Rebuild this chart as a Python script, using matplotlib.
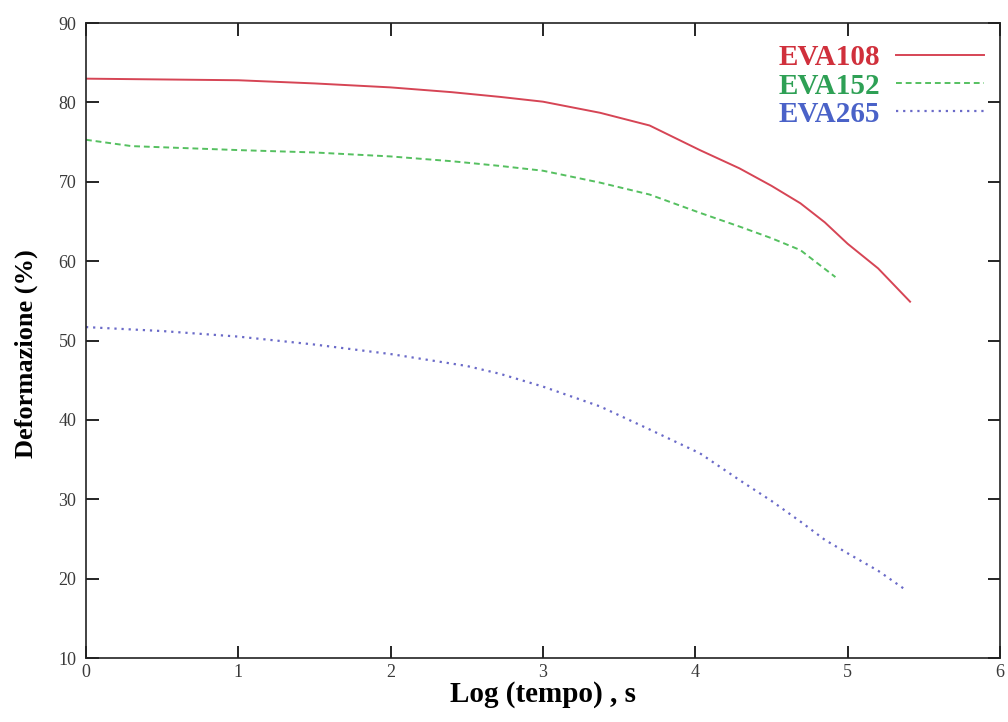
import matplotlib
matplotlib.use("Agg")
import matplotlib.pyplot as plt

# Creep recovery curves: deformation vs log(time)
eva108_x = [0.0, 0.5, 1.0, 1.5, 2.0, 2.4, 2.72, 3.0, 3.375, 3.7, 4.03, 4.29, 4.5, 4.69, 4.85, 5.0, 5.2, 5.41]
eva108_y = [83.0, 82.9, 82.8, 82.4, 81.9, 81.3, 80.7, 80.1, 78.7, 77.1, 74.0, 71.7, 69.5, 67.3, 64.9, 62.2, 59.1, 54.9]

eva152_x = [0.0, 0.3, 1.0, 1.5, 2.0, 2.4, 2.72, 3.0, 3.375, 3.7, 4.03, 4.3, 4.5, 4.69, 4.92]
eva152_y = [75.3, 74.5, 74.0, 73.7, 73.2, 72.6, 72.0, 71.4, 69.9, 68.4, 66.1, 64.3, 62.9, 61.4, 58.0]

eva265_x = [0.0, 0.5, 1.0, 1.5, 2.0, 2.5, 2.72, 3.0, 3.375, 3.7, 4.03, 4.3, 4.5, 4.69, 4.85, 5.0, 5.2, 5.38]
eva265_y = [51.7, 51.2, 50.5, 49.5, 48.3, 46.8, 45.8, 44.2, 41.7, 38.8, 35.8, 32.3, 29.8, 27.2, 24.9, 23.2, 21.0, 18.6]

series_labels = ["EVA108", "EVA152", "EVA265"]
line_colors = ["#d64555", "#55c060", "#6a6ac8"]
text_colors = ["#d0303c", "#2ea055", "#4a62c8"]

x_ticks = [0, 1, 2, 3, 4, 5, 6]
y_ticks = [10, 20, 30, 40, 50, 60, 70, 80, 90]

serif = ["Liberation Serif", "DejaVu Serif"]

fig = plt.figure(figsize=(10.08, 7.22), dpi=100)
ax = fig.add_axes([0.0853, 0.0886, 0.9067, 0.8794])

ax.plot(eva108_x, eva108_y, color=line_colors[0], lw=1.4, ls="-", label=series_labels[0])
ax.plot(eva152_x, eva152_y, color=line_colors[1], lw=1.4, ls=(0, (3, 2)), label=series_labels[1])
ax.plot(eva265_x, eva265_y, color=line_colors[2], lw=1.6, ls=(0, (1, 2.2)), label=series_labels[2])

ax.set_xlim(0, 6)
ax.set_ylim(10, 90)
ax.set_xticks(x_ticks)
ax.set_yticks(y_ticks)
ax.tick_params(direction="in", length=9, width=1.2, top=True, right=True,
               labelsize=13, labelcolor="#3a3a3a", pad=7)
ax.tick_params(axis="x", pad=4)
for lab in ax.get_xticklabels() + ax.get_yticklabels():
    lab.set_fontfamily(serif)
for sp in ax.spines.values():
    sp.set_linewidth(1.2)
    sp.set_color("#222222")

ax.set_xlabel("Log (tempo) , s", fontfamily=serif, fontweight="bold", fontsize=21, labelpad=0)
ax.set_ylabel("Deformazione (%)", fontfamily=serif, fontweight="bold", fontsize=19)
ax.yaxis.set_label_coords(-0.053, 0.48)

leg = ax.legend(loc="upper right", bbox_to_anchor=(1.006, 1.001), frameon=False,
                markerfirst=False, handlelength=3.0, handletextpad=0.55,
                labelspacing=0.04, borderpad=0.25,
                prop={"family": serif, "weight": "bold", "size": 21})
for txt, c in zip(leg.get_texts(), text_colors):
    txt.set_color(c)
    txt.set_fontweight("bold")

fig.savefig("out.png", dpi=100, facecolor="white")
